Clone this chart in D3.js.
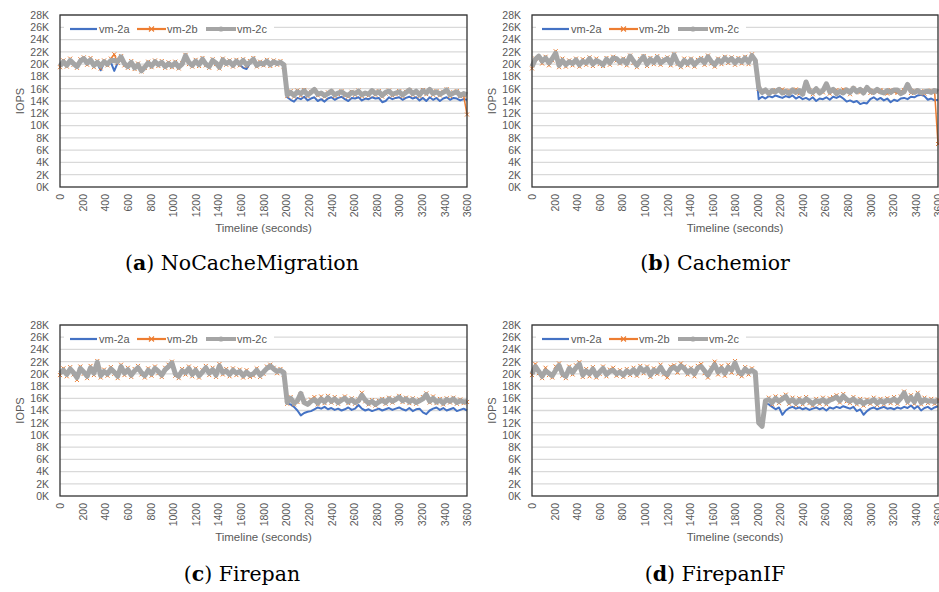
<!DOCTYPE html>
<html><head><meta charset="utf-8">
<script src="https://cdn.jsdelivr.net/npm/d3@7"></script>
<style>body{margin:0;background:#fff;} svg{display:block;}</style>
</head><body><svg id="chart" width="939" height="592"></svg>
<script>
// ---------- data (IOPS in thousands, one sample every STEP seconds) ----------
const STEP = 30;
const seriesNames = ["vm-2a", "vm-2b", "vm-2c"];
const yTickValues = [0, 2, 4, 6, 8, 10, 12, 14, 16, 18, 20, 22, 24, 26, 28];
const xTickValues = [0, 200, 400, 600, 800, 1000, 1200, 1400, 1600, 1800, 2000, 2200, 2400, 2600, 2800, 3000, 3200, 3400, 3600];
const panelLetters = ["a", "b", "c", "d"];
const panelTitles = ["NoCacheMigration", "Cachemior", "Firepan", "FirepanIF"];

const noCache_vm2a = [
19.6,20.2,19.7,20.4,19.9,19.5,20.3,20.6,19.9,20.4,
19.6,20.1,19.0,20.2,19.8,20.3,18.9,20.2,20.9,19.9,
19.5,20.1,19.3,19.8,18.9,19.4,20.0,19.6,20.2,19.8,
20.1,19.5,19.9,19.6,20.0,19.4,19.9,21.0,20.1,19.7,
20.3,19.8,20.5,19.9,19.5,20.4,20.0,19.4,20.4,20.0,
20.2,19.7,20.3,19.9,19.4,19.2,20.1,20.5,19.7,20.0,
19.9,20.3,19.8,20.2,20.0,20.1,19.6,
14.6,14.2,13.9,
14.5,14.3,14.7,14.1,14.4,14.6,14.0,14.3,13.9,14.4,
14.6,14.2,14.5,14.7,14.3,14.0,14.5,14.4,14.6,14.1,
14.4,14.3,14.6,14.4,14.5,13.8,14.0,14.6,14.3,14.5,
14.6,14.2,14.5,14.7,14.4,14.6,14.1,14.5,14.0,14.6,
14.2,14.5,14.0,14.4,14.6,14.2,14.5,14.4,14.1,14.3,14.2];
const noCache_vm2b = [
19.5,20.6,19.6,20.9,19.9,19.4,20.8,21.1,19.9,21.0,
19.5,20.5,19.3,20.6,19.8,20.9,21.6,20.2,21.3,19.8,
19.4,20.5,19.2,20.1,18.8,19.4,20.4,19.5,20.6,19.7,
20.5,19.4,20.3,19.5,20.4,19.3,20.2,21.5,20.0,19.6,
20.7,19.7,21.0,19.8,19.4,20.8,20.0,19.3,20.9,19.9,
20.6,19.6,20.7,19.8,20.8,19.7,20.5,21.0,19.6,20.4,
19.8,20.7,19.7,20.6,19.9,20.5,19.6,
14.8,15.6,14.7,
15.7,14.9,15.8,14.8,15.5,15.7,14.9,15.1,14.7,15.4,
15.5,14.8,15.1,15.6,14.9,14.7,15.5,15.0,15.7,14.8,
15.1,14.9,15.6,15.0,15.6,14.7,15.2,15.7,14.9,15.1,
15.6,14.8,15.5,15.7,15.0,15.4,14.8,15.8,15.1,15.7,
15.0,15.6,14.9,15.5,15.9,14.8,15.4,15.6,14.8,14.9,11.8];
const noCache_vm2c = [
19.7,20.4,19.8,20.6,20.1,19.6,20.5,20.9,20.2,20.7,
19.8,20.3,19.7,20.4,20.0,20.6,20.6,20.4,21.2,20.1,
19.6,20.3,19.4,19.9,18.9,19.5,20.2,19.7,20.4,19.9,
20.3,19.6,20.1,19.7,20.2,19.5,20.0,21.4,20.3,19.8,
20.5,19.9,20.8,20.0,19.6,20.6,20.2,19.5,20.7,20.1,
20.4,19.8,20.5,20.0,20.6,19.9,20.3,20.8,19.8,20.2,
20.0,20.5,19.9,20.4,20.1,20.3,19.9,
15.0,15.4,14.9,
15.5,15.2,15.7,15.0,15.4,15.9,15.1,15.3,14.9,15.2,
15.6,15.0,15.3,15.5,15.1,14.9,15.4,15.2,15.6,15.0,
15.3,15.1,15.7,15.2,15.5,14.9,15.4,15.6,15.1,15.3,
15.5,15.0,15.4,15.8,15.2,15.6,15.0,15.7,15.3,15.9,
15.2,15.5,15.1,15.4,15.8,15.0,15.3,15.5,14.9,15.2,15.0];

const cachemior_vm2a = [
19.7,20.6,21.1,20.3,20.8,20.0,20.7,21.5,19.9,20.4,
20.0,20.3,20.0,20.5,19.9,20.3,20.1,20.7,20.0,20.4,
20.2,19.8,20.6,20.1,20.8,20.7,20.2,20.5,20.0,21.0,
20.3,19.7,20.4,21.0,19.9,20.6,20.1,20.9,20.1,20.4,
20.7,20.0,21.2,20.2,19.8,20.4,20.0,20.5,19.9,20.3,
20.6,20.1,21.0,20.3,19.8,20.5,20.2,20.8,20.4,20.7,
20.1,20.6,20.3,20.8,20.2,21.1,20.4,
14.3,14.7,14.4,
14.8,14.6,14.9,14.7,14.5,14.8,14.6,14.9,14.4,14.7,
14.3,14.5,14.2,14.6,14.0,14.4,14.3,14.6,14.2,14.7,
14.5,14.8,14.4,13.9,14.1,13.8,14.0,13.5,13.7,13.6,
14.3,14.6,14.2,14.5,14.1,14.4,13.8,14.2,14.0,14.4,
14.5,14.3,14.7,14.6,14.9,15.0,14.8,14.2,14.4,14.1,14.2];
const cachemior_vm2b = [
19.3,20.9,21.0,20.1,21.2,19.8,20.6,22.1,19.5,20.9,
19.6,20.6,19.8,20.9,19.6,20.8,19.9,21.1,19.7,20.9,
20.0,19.7,21.0,19.9,21.2,20.6,20.1,20.9,19.8,21.4,
20.2,19.5,20.8,21.3,19.7,21.0,20.0,21.3,19.9,20.8,
21.1,19.8,21.6,20.0,19.5,20.9,19.8,20.9,19.6,20.7,
21.0,19.9,21.4,20.1,19.6,20.9,20.0,21.2,20.2,21.1,
19.9,21.0,20.1,21.2,20.0,21.6,20.3,
16.0,15.7,15.5,
15.6,15.4,15.8,15.6,15.9,15.3,15.7,15.5,15.9,15.2,
15.4,16.6,15.8,15.1,15.7,15.6,15.4,16.3,15.2,15.6,
15.8,15.3,15.9,15.5,15.1,16.0,15.7,15.4,15.8,15.9,
15.3,15.7,15.5,15.8,15.6,15.2,15.8,15.5,15.3,15.6,
15.8,16.4,15.3,15.7,15.4,15.6,15.2,15.5,15.7,15.5,7.0];
const cachemior_vm2c = [
19.6,20.8,21.3,20.5,21.0,20.2,20.9,21.8,19.8,20.6,
19.9,20.4,20.1,20.7,19.9,20.5,20.2,20.9,20.0,20.6,
20.3,19.9,20.8,20.2,21.0,20.9,20.3,20.7,20.1,21.3,
20.5,19.8,20.6,21.2,20.0,20.8,20.3,21.1,20.2,20.6,
20.9,20.1,21.5,20.3,19.8,20.6,20.1,20.7,19.9,20.5,
20.8,20.2,21.2,20.4,19.9,20.7,20.3,21.0,20.5,20.9,
20.2,20.8,20.4,21.0,20.3,21.4,20.6,
16.2,15.4,15.8,
15.2,15.7,15.5,15.9,15.3,15.6,15.2,15.8,15.4,15.7,
15.1,17.1,15.6,15.4,16.0,15.3,15.7,16.8,15.5,15.9,
15.2,15.6,15.3,15.8,15.4,16.1,15.5,15.9,15.3,16.2,
15.6,15.4,15.9,15.5,15.3,15.7,15.4,15.8,15.8,15.2,
15.5,16.7,15.6,15.4,15.7,15.3,15.5,15.6,15.4,15.7,15.5];

const firepan_vm2a = [
20.0,20.5,19.8,20.6,20.1,19.5,20.7,20.2,19.7,20.8,
20.0,21.5,19.8,20.3,19.9,20.6,20.2,19.7,20.9,20.0,
20.5,19.8,20.4,20.8,20.1,19.8,20.4,19.9,20.7,20.3,
19.8,20.5,21.0,21.4,19.9,19.7,20.4,20.1,20.7,19.9,
20.5,19.8,20.2,20.8,20.0,20.5,19.8,21.0,20.1,20.4,
19.9,20.5,20.0,20.3,19.7,20.2,19.8,19.9,20.4,19.8,
20.2,20.7,21.0,20.7,20.2,20.4,19.8,
15.2,15.0,14.6,
14.0,13.2,13.6,13.8,13.9,14.2,14.5,14.3,14.6,14.2,
14.4,14.1,14.3,14.0,14.2,14.5,14.1,14.3,14.9,14.3,
14.0,14.2,13.9,14.1,14.3,14.0,14.2,14.4,14.1,14.3,
14.5,14.2,14.0,14.4,13.9,14.2,14.3,13.7,13.4,14.0,
14.3,14.5,14.1,14.4,14.0,14.2,14.4,13.9,14.1,14.3,14.0];
const firepan_vm2b = [
19.8,20.9,19.6,21.1,19.9,19.0,21.2,20.0,19.3,21.3,
19.8,22.1,19.4,20.7,19.7,21.1,20.0,19.3,21.5,19.8,
21.0,19.5,20.8,21.3,19.9,19.4,20.9,19.7,21.2,20.1,
19.5,21.0,21.5,22.0,19.7,19.3,20.8,19.9,21.2,19.6,
20.9,19.4,20.6,21.3,19.8,21.0,19.5,21.6,19.9,20.8,
19.6,20.9,19.8,20.7,19.4,20.6,19.5,19.7,20.9,19.5,
20.0,21.2,21.5,21.0,20.1,20.8,19.9,
15.1,16.2,15.0,
15.4,16.6,15.5,15.2,15.8,16.2,15.0,16.3,15.2,16.4,
15.3,16.2,15.1,15.9,16.3,15.2,16.0,15.1,15.8,16.9,
15.5,15.0,15.7,14.8,15.6,15.9,15.1,16.1,15.3,16.0,
16.4,15.4,16.1,15.2,16.0,15.1,15.8,16.2,16.8,15.3,
16.3,15.2,15.9,15.0,16.0,15.3,16.1,15.1,15.8,15.2,15.4];
const firepan_vm2c = [
20.1,20.6,19.9,20.8,20.2,19.4,20.9,20.3,19.6,21.0,
20.1,21.9,19.7,20.4,20.0,20.8,20.3,19.6,21.2,20.1,
20.7,19.8,20.5,21.0,20.2,19.7,20.6,20.0,20.9,20.4,
19.8,20.7,21.2,21.8,20.0,19.6,20.5,20.2,20.9,19.9,
20.6,19.7,20.3,21.0,20.1,20.7,19.8,21.3,20.2,20.5,
19.9,20.6,20.1,20.4,19.7,20.3,19.8,20.0,20.6,19.8,
20.3,20.9,21.3,20.8,20.4,20.6,20.2,
15.3,16.0,15.2,
15.6,16.8,15.3,15.0,15.5,15.8,15.2,15.9,15.4,16.1,
15.5,15.9,15.3,15.7,16.0,15.4,15.8,15.3,15.6,16.5,
15.7,15.2,15.5,15.0,15.4,15.7,15.3,15.9,15.5,15.8,
16.2,15.6,15.9,15.4,15.8,15.3,15.6,15.9,16.6,15.5,
16.0,15.4,15.7,15.2,15.8,15.5,15.9,15.3,15.6,15.4,15.5];

const firepanIF_vm2a = [
19.9,21.0,20.3,19.7,20.4,20.0,19.8,20.5,21.2,20.0,
19.7,20.8,20.1,20.9,21.4,19.9,20.4,20.0,20.7,19.8,
20.2,20.8,19.9,20.3,20.5,20.0,20.2,19.9,20.4,20.0,
20.6,20.0,20.9,20.3,20.8,19.9,20.5,20.2,21.0,20.1,
19.9,20.7,21.0,20.5,21.1,20.8,20.1,20.6,20.0,20.9,
21.0,20.4,19.9,20.6,21.3,20.2,20.8,20.1,21.0,20.5,
21.6,20.3,20.0,20.7,20.2,20.5,20.1,
12.4,11.6,15.2,
15.0,14.6,14.2,14.5,13.3,14.0,14.4,14.6,14.3,14.5,
14.2,14.4,14.1,14.3,14.5,14.2,14.4,14.0,14.5,14.3,
14.6,14.4,14.7,14.5,14.3,14.6,13.9,14.2,13.3,13.9,
14.3,14.5,14.2,14.4,14.6,14.3,14.4,14.2,14.5,14.3,
14.6,14.4,14.8,14.3,14.7,14.0,14.4,14.6,14.2,14.5,14.7];
const firepanIF_vm2b = [
19.8,21.6,20.1,19.3,21.0,19.8,19.4,21.2,21.7,19.7,
19.3,21.2,19.9,21.4,21.9,19.5,20.8,19.6,21.1,19.4,
20.0,21.2,19.6,20.7,21.0,19.7,20.6,19.5,20.8,19.8,
21.0,19.7,21.3,20.1,21.2,19.5,20.9,20.0,21.5,19.9,
19.4,21.2,21.4,20.2,21.7,21.2,19.9,21.0,19.6,21.3,
21.6,20.1,19.4,21.0,22.0,19.9,21.3,19.7,21.5,20.2,
22.1,20.0,19.6,21.1,19.9,20.9,19.8,
12.6,11.8,15.4,
16.1,15.0,16.3,15.2,16.2,16.6,15.1,16.1,14.9,16.0,
15.0,16.2,15.2,14.8,15.9,15.1,16.1,15.0,16.0,16.2,
16.5,15.3,16.7,15.5,15.2,16.2,15.0,15.9,14.8,15.8,
15.1,16.1,14.9,15.9,15.0,16.0,15.2,16.2,15.1,16.3,
17.1,15.2,16.5,15.1,16.9,15.0,16.1,15.2,15.9,15.1,15.8];
const firepanIF_vm2c = [
20.0,21.2,20.4,19.6,20.5,20.1,19.7,20.6,21.4,20.0,
19.6,20.9,20.2,21.0,21.6,19.8,20.5,20.0,20.8,19.7,
20.3,20.9,19.9,20.4,20.6,20.0,20.3,19.8,20.5,20.1,
20.7,20.0,21.0,20.4,20.9,19.8,20.6,20.3,21.1,20.2,
19.9,20.8,21.1,20.6,21.3,20.9,20.2,20.7,20.0,21.0,
21.2,20.5,19.8,20.7,21.5,20.3,20.9,20.1,21.1,20.6,
21.8,20.4,20.0,20.8,20.3,20.6,20.2,
12.0,11.4,15.6,
15.8,15.3,16.0,15.5,15.9,16.3,15.4,15.8,15.2,15.7,
15.3,15.9,15.5,15.1,15.6,15.4,15.8,15.3,15.7,15.9,
16.2,15.6,16.4,15.8,15.5,15.9,15.3,15.6,15.1,15.5,
15.4,15.8,15.2,15.6,15.3,15.7,15.5,15.9,15.4,16.0,
16.9,15.5,16.2,15.4,16.6,15.3,15.8,15.5,15.6,15.4,15.7];

// ---------- layout & style ----------
const SANS = "'Liberation Sans', Arial, sans-serif";
const SERIF = "'DejaVu Serif', 'Liberation Serif', serif";
const colors = ["#4472C4", "#ED7D31", "#A5A5A5"];
const widths = [2, 1.5, 5];
const TEXT = "#595959";

const panelData = [
  [noCache_vm2a, noCache_vm2b, noCache_vm2c],
  [cachemior_vm2a, cachemior_vm2b, cachemior_vm2c],
  [firepan_vm2a, firepan_vm2b, firepan_vm2c],
  [firepanIF_vm2a, firepanIF_vm2b, firepanIF_vm2c]
];
const boxes = [
  {l: 60,  t: 15,  r: 467, b: 187, capY: 270},
  {l: 532, t: 15,  r: 938, b: 187, capY: 270},
  {l: 60,  t: 325, r: 467, b: 496, capY: 581},
  {l: 532, t: 325, r: 938, b: 496, capY: 581}
];
const capX = [242, 715, 242, 715];

const svg = d3.select("#chart");

boxes.forEach((bx, pi) => {
  const g = svg.append("g");
  const x = d3.scaleLinear().domain([0, 3600]).range([bx.l, bx.r]);
  const y = d3.scaleLinear().domain([0, 28]).range([bx.b, bx.t]);

  // gridlines
  g.append("g").selectAll("line").data(yTickValues.filter(v => v > 0)).join("line")
    .attr("x1", bx.l).attr("x2", bx.r)
    .attr("y1", d => y(d)).attr("y2", d => y(d))
    .attr("stroke", "#d9d9d9").attr("stroke-width", 1.3);

  // y axis
  const ya = g.append("g").attr("transform", `translate(${bx.l},0)`)
    .call(d3.axisLeft(y).tickValues(yTickValues).tickFormat(d => d + "K").tickSize(0).tickPadding(11));
  ya.select(".domain").remove();
  ya.selectAll("text").attr("fill", TEXT).style("font-family", SANS).style("font-size", "10.5px");

  // x axis
  const xa = g.append("g").attr("transform", `translate(0,${bx.b})`)
    .call(d3.axisBottom(x).tickValues(xTickValues).tickFormat(d3.format("d")).tickSize(0));
  xa.select(".domain").remove();
  xa.selectAll("text")
    .attr("transform", "rotate(-90)")
    .attr("x", -7).attr("y", 0).attr("dy", "0.35em")
    .attr("text-anchor", "end")
    .attr("fill", TEXT).style("font-family", SANS).style("font-size", "10.5px");

  // axis titles
  g.append("text").attr("x", (bx.l + bx.r) / 2).attr("y", bx.b + 45)
    .attr("text-anchor", "middle").attr("fill", TEXT)
    .style("font-family", SANS).style("font-size", "11.5px")
    .text("Timeline (seconds)");
  g.append("text")
    .attr("transform", `translate(${bx.l - 40},${(bx.t + bx.b) / 2}) rotate(-90)`)
    .attr("text-anchor", "middle").attr("dy", "0.35em").attr("fill", TEXT)
    .style("font-family", SANS).style("font-size", "11px")
    .text("IOPS");

  // series
  const line = d3.line().x((d, i) => x(i * STEP)).y(d => y(d));
  panelData[pi].forEach((vals, si) => {
    g.append("path").datum(vals)
      .attr("d", line).attr("fill", "none")
      .attr("stroke", colors[si]).attr("stroke-width", widths[si])
      .attr("stroke-linejoin", "round");
    if (si === 1) {
      g.append("g").selectAll("path").data(vals).join("path")
        .attr("d", (d, i) => {
          const cx = x(i * STEP), cy = y(d), s = 2;
          return `M${cx - s},${cy - s}L${cx + s},${cy + s}M${cx - s},${cy + s}L${cx + s},${cy - s}`;
        })
        .attr("stroke", colors[1]).attr("stroke-width", 1);
    }
  });

  // plot border
  g.append("rect").attr("x", bx.l).attr("y", bx.t)
    .attr("width", bx.r - bx.l).attr("height", bx.b - bx.t)
    .attr("fill", "none").attr("stroke", "#333").attr("stroke-width", 1.3);

  // legend
  const ly = bx.t + 14;
  const lg = g.append("g");
  lg.append("rect").attr("x", bx.l + 4).attr("y", ly - 7).attr("width", 210).attr("height", 14).attr("fill", "#fff");
  const items = [{s: 10, e: 37, tx: 39}, {s: 77, e: 106, tx: 107}, {s: 146, e: 176, tx: 177}];
  seriesNames.forEach((name, si) => {
    const it = items[si];
    lg.append("line").attr("x1", bx.l + it.s).attr("x2", bx.l + it.e)
      .attr("y1", ly).attr("y2", ly)
      .attr("stroke", colors[si]).attr("stroke-width", si === 2 ? 4 : 2.2);
    const mx = bx.l + (it.s + it.e) / 2;
    if (si === 1) {
      lg.append("path").attr("d", `M${mx - 2.5},${ly - 2.5}L${mx + 2.5},${ly + 2.5}M${mx - 2.5},${ly + 2.5}L${mx + 2.5},${ly - 2.5}`)
        .attr("stroke", colors[1]).attr("stroke-width", 1.2);
    }
    if (si === 2) {
      lg.append("circle").attr("cx", mx).attr("cy", ly).attr("r", 2.6).attr("fill", colors[2]);
    }
    lg.append("text").attr("x", bx.l + it.tx).attr("y", ly).attr("dy", "0.35em")
      .attr("fill", TEXT).style("font-family", SANS).style("font-size", "11px")
      .text(name);
  });

  // caption
  const cap = svg.append("text").attr("x", capX[pi]).attr("y", bx.capY)
    .attr("text-anchor", "middle").attr("fill", "#000")
    .style("font-family", SERIF).style("font-size", "20.5px");
  cap.append("tspan").text("(");
  cap.append("tspan").attr("font-weight", "bold").text(panelLetters[pi]);
  cap.append("tspan").text(") " + panelTitles[pi]);
});
</script>
</body></html>
